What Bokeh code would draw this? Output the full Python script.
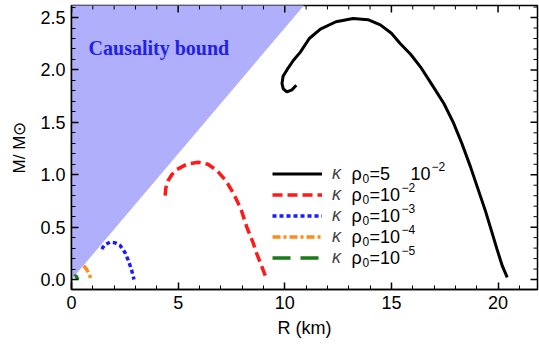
import math
from bokeh.plotting import figure
from bokeh.models import (Range1d, SingleIntervalTicker, Legend, LegendItem,
                          Label, PrintfTickFormatter)
from bokeh.embed import file_html
from bokeh.resources import INLINE

# ---- data ----
causal_R = [0.0, 12.0, 0.0]
causal_M = [0.0, 2.88, 2.88]

black_R = [10.54, 10.34, 10.10, 9.93, 9.87, 9.92, 10.10, 10.40, 10.73, 11.15, 11.67, 12.40,
           13.20, 13.90, 14.48, 15.00, 15.42, 15.90, 16.36, 16.90, 17.46, 17.90, 18.30, 18.70,
           19.05, 19.40, 19.70, 19.95, 20.20, 20.43]
black_M = [1.855, 1.81, 1.79, 1.82, 1.87, 1.94, 2.00, 2.09, 2.17, 2.30, 2.39, 2.46,
           2.49, 2.48, 2.43, 2.35, 2.25, 2.15, 2.03, 1.86, 1.68, 1.50, 1.30, 1.08,
           0.87, 0.66, 0.46, 0.29, 0.13, 0.02]

red_R = [4.39, 4.42, 4.52, 4.70, 4.94, 5.40, 5.94, 6.40, 6.82, 7.25, 7.60, 7.95, 8.22, 8.50,
         8.69, 8.95, 9.16]
red_M = [0.80, 0.87, 0.94, 1.00, 1.05, 1.10, 1.12, 1.10, 1.04, 0.94, 0.82, 0.67, 0.50, 0.36,
         0.245, 0.11, 0.0]

blue_R = [1.42, 1.55, 1.81, 2.05, 2.28, 2.50, 2.67, 2.82, 2.93]
blue_M = [0.29, 0.33, 0.357, 0.35, 0.325, 0.26, 0.18, 0.09, 0.0]

orange_R = [0.55, 0.62, 0.70, 0.78, 0.85, 0.92]
orange_M = [0.125, 0.12, 0.10, 0.07, 0.04, 0.0]

green_R = [0.14, 0.19, 0.24, 0.29]
green_M = [0.03, 0.036, 0.025, 0.0]

# legend text parts: kappa, rho, subscript, mantissa, base, exponent
leg_kappa = ["κ", "κ", "κ", "κ", "κ"]
leg_rho = "ρ"
leg_sub = "0"
leg_mant = ["=5", "=10", "=10", "=10", "=10"]
leg_base = ["10", "", "", "", ""]
leg_exp = ["−2", "−2", "−3", "−4", "−5"]

x_major = [0, 5, 10, 15, 20]
x_minor = [1, 2, 3, 4, 6, 7, 8, 9, 11, 12, 13, 14, 16, 17, 18, 19, 21]
y_major = [0.0, 0.5, 1.0, 1.5, 2.0, 2.5]
y_minor = [0.1, 0.2, 0.3, 0.4, 0.6, 0.7, 0.8, 0.9, 1.1, 1.2, 1.3, 1.4, 1.6, 1.7, 1.8,
           1.9, 2.1, 2.2, 2.3, 2.4, 2.6]

FONT = "Liberation Sans"
X0, X1 = 0, 21.85
Y0, Y1 = -0.095, 2.615
FL, FB = 71, 289   # frame left / bottom in canvas pixels

p = figure(width=539, height=344, x_range=Range1d(X0, X1), y_range=Range1d(Y0, Y1),
           output_backend="svg", toolbar_location=None,
           min_border_left=FL, min_border_right=2, min_border_top=5, min_border_bottom=55)
p.xgrid.visible = False
p.ygrid.visible = False
p.outline_line_color = "black"
p.outline_line_width = 1.5
p.background_fill_color = "white"
p.border_fill_color = "white"

p.patch(causal_R, causal_M, fill_color="#afaffc", line_color=None)

r_black = p.line(black_R, black_M, line_color="black", line_width=3)
r_red = p.line(red_R, red_M, line_color="#ff1a1a", line_width=3.5, line_dash="10 5")
r_blue = p.line(blue_R, blue_M, line_color="#1a1aff", line_width=3.5, line_dash="4 3")
r_orange = p.line(orange_R, orange_M, line_color="#ff8c1a", line_width=3.5, line_dash="8 3 3 3")
r_green = p.line(green_R, green_M, line_color="#1a7a1a", line_width=3.5, line_dash="18 10")

# mirrored inward ticks on top and right
p.ray(x=x_major, y=[Y1] * len(x_major), length=7, length_units="screen",
      angle=-math.pi / 2, line_color="black", line_width=1.5)
p.ray(x=x_minor, y=[Y1] * len(x_minor), length=4, length_units="screen",
      angle=-math.pi / 2, line_color="black", line_width=1)
p.ray(x=[X1] * len(y_major), y=y_major, length=7, length_units="screen",
      angle=math.pi, line_color="black", line_width=1.5)
p.ray(x=[X1] * len(y_minor), y=y_minor, length=4, length_units="screen",
      angle=math.pi, line_color="black", line_width=1)

for ax in (p.xaxis[0], p.yaxis[0]):
    ax.major_tick_in = 7
    ax.major_tick_out = 0
    ax.minor_tick_in = 4
    ax.minor_tick_out = 0
    ax.axis_line_color = "black"
    ax.axis_line_width = 1.5
    ax.major_tick_line_width = 1.5
    ax.minor_tick_line_width = 1
    ax.major_label_text_font = FONT
    ax.major_label_text_font_size = "18px"
    ax.major_label_text_color = "black"
    ax.axis_label_text_font = FONT
    ax.axis_label_text_font_size = "18px"
    ax.axis_label_text_font_style = "normal"
    ax.axis_label_text_color = "black"

p.xaxis.ticker = SingleIntervalTicker(interval=5, num_minor_ticks=5)
p.yaxis.ticker = SingleIntervalTicker(interval=0.5, num_minor_ticks=5)
p.yaxis.formatter = PrintfTickFormatter(format="%.1f")
p.xaxis.axis_label = "R (km)"
p.yaxis.axis_label = "M/ M⊙"
p.yaxis.axis_label_text_font_size = "17px"
p.yaxis.axis_label_standoff = 8
p.xaxis.axis_label_standoff = 6
p.xaxis.major_label_standoff = 6
p.yaxis.major_label_standoff = 6


def slabel(cx, cy, text, size, style="normal", color="black", font=FONT):
    """Label placed by canvas pixel position (cx = left edge, cy = vertical centre)."""
    p.add_layout(Label(x=cx - FL, y=FB - cy, x_units="screen", y_units="screen",
                       text=text, text_font=font, text_font_size=f"{size}px",
                       text_font_style=style, text_color=color,
                       text_align="left", text_baseline="middle"))


# causality text
p.add_layout(Label(x=0.8, y=2.21, text="Causality bound", text_font="Liberation Serif",
                   text_font_style="bold", text_font_size="20px", text_color="#2222e6",
                   text_baseline="middle"))

# legend: glyphs + kappa by Bokeh, rest composed
legend = Legend(items=[LegendItem(label=leg_kappa[i], renderers=[r])
                       for i, r in enumerate([r_black, r_red, r_blue, r_orange, r_green])],
                location=(201, 21), glyph_width=50, glyph_height=21, label_height=21,
                spacing=0, padding=0, margin=0, label_standoff=10,
                label_text_font=FONT, label_text_font_size="18px",
                label_text_font_style="italic",
                border_line_color=None, background_fill_alpha=0)
p.add_layout(legend)

row_cy = [173, 194, 215, 236, 257]
for i, cy in enumerate(row_cy):
    slabel(351, cy, leg_rho, 18)
    slabel(362, cy + 5, leg_sub, 12)
    slabel(369, cy, leg_mant[i], 18)
    if leg_base[i]:
        slabel(410, cy, leg_base[i], 18)
        slabel(431, cy - 7, leg_exp[i], 12)
    else:
        slabel(401, cy - 7, leg_exp[i], 12)

open("out.html", "w").write(file_html(p, INLINE))
